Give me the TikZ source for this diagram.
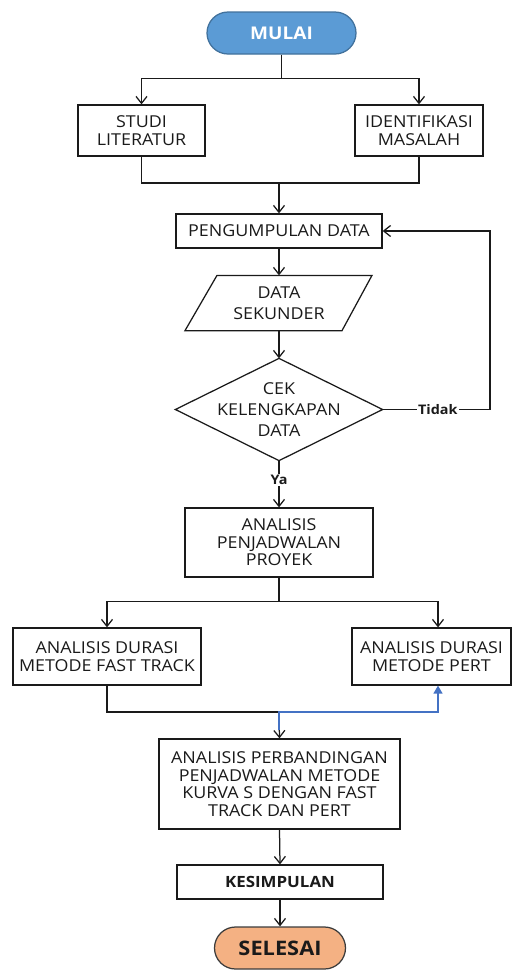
\documentclass[tikz,border=0pt]{standalone}
\usepackage{fontspec}
\setmainfont{Open Sans}[FakeStretch=1.09]
\usetikzlibrary{arrows.meta,calc}
\definecolor{mulaiblue}{HTML}{5B9BD5}
\definecolor{mulaiedge}{HTML}{41719C}
\definecolor{selorange}{HTML}{F4B183}
\definecolor{linkblue}{HTML}{4472C4}
\definecolor{ink}{HTML}{1A1A1A}
\begin{document}
\begin{tikzpicture}[x=1pt,y=-1pt,
  line width=1.25pt,
  arr/.style={draw=ink,-{Straight Barb[length=7pt,width=11pt]}},
  barr/.style={draw=linkblue,line width=1.3pt,-{Triangle[length=8pt,width=9pt]}},
  box/.style={draw=ink,rectangle,align=center,inner sep=0pt,text=ink,font=\fontsize{16.4}{17.5}\selectfont},
  plain/.style={align=center,inner sep=0pt,text=ink},
  term/.style={draw,rectangle,rounded corners=21pt,minimum height=42pt,inner sep=0pt},
  lbl/.style={fill=white,inner sep=1pt,text=ink,font=\bfseries\fontsize{13.2}{15}\selectfont}]
\fill[white] (0,0) rectangle (512,970);
\useasboundingbox (0,0) rectangle (512,970);

% nodes
\node[term,fill=mulaiblue,draw=mulaiedge,minimum width=149pt,text=white,font=\bfseries\fontsize{17.5}{20}\selectfont] (mulai) at (281.5,33) {MULAI};
\node[box,minimum width=127pt,minimum height=51pt] (studi) at (141.5,130.5) {STUDI\\LITERATUR};
\node[box,minimum width=128pt,minimum height=51pt] (iden) at (419,130.5) {IDENTIFIKASI\\MASALAH};
\node[box,minimum width=206pt,minimum height=34pt] (pd) at (279,231) {PENGUMPULAN DATA};
\node[plain,minimum width=155pt,minimum height=54pt,font=\fontsize{16.4}{20.5}\selectfont] (ds) at (279,303) {DATA\\SEKUNDER};
\draw[ink] ([xshift=-62pt]ds.north) -- ([xshift=93pt]ds.north) -- ([xshift=63pt]ds.south) -- ([xshift=-94pt]ds.south) -- cycle;
\node[plain,minimum width=206pt,minimum height=101pt,font=\fontsize{16.4}{20.7}\selectfont] (cek) at (279,409.5) {CEK\\KELENGKAPAN\\DATA};
\draw[ink] (cek.north) -- (cek.east) -- (cek.south) -- (cek.west) -- cycle;
\node[box,minimum width=188pt,minimum height=69pt] (ana) at (279,542.5) {ANALISIS\\PENJADWALAN\\PROYEK};
\node[box,minimum width=188pt,minimum height=57pt] (ft) at (107,656.5) {ANALISIS DURASI\\METODE FAST TRACK};
\node[box,minimum width=159pt,minimum height=57pt] (pert) at (431.5,656.5) {ANALISIS DURASI\\METODE PERT};
\node[box,minimum width=241pt,minimum height=90pt] (perb) at (279.5,784) {ANALISIS PERBANDINGAN\\PENJADWALAN METODE\\KURVA S DENGAN FAST\\TRACK DAN PERT};
\node[box,minimum width=206pt,minimum height=34pt,font=\bfseries\fontsize{15.5}{17}\selectfont] (kes) at (280,882) {KESIMPULAN};
\node[term,fill=selorange,draw=ink!85,minimum width=131pt,text=ink,font=\bfseries\fontsize{20}{22}\selectfont] (sel) at (280,948) {SELESAI};

% connectors
\draw[arr] (mulai.south) -- ++(0,24) -| (studi.north);
\draw[arr] (mulai.south) -- ++(0,24) -| (iden.north);
\coordinate (j1) at (279,183);
\draw[ink] (studi.south) |- (j1) -| (iden.south);
\draw[arr] (j1) -- (pd.north);
\draw[arr] (pd.south) -- (ds.north);
\draw[arr] (ds.south) -- (cek.north);
\coordinate (loop) at (490,409.5);
\draw[arr] (cek.east) -- node[lbl,pos=0.514]{Tidak} (loop) |- (pd.east);
\draw[arr] (cek.south) -- node[lbl,pos=0.42]{Ya} (ana.north);
\draw[arr] (ana.south) -- ++(0,24) -| (ft.north);
\draw[arr] (ana.south) -- ++(0,24) -| ([xshift=6.5pt]pert.north);
\coordinate (j2) at (279,712);
\draw[ink] (ft.south) |- (j2);
\draw[arr] (j2) -- (perb.north);
\coordinate (b0) at (279,730);
\draw[barr] (b0) -- (j2) -| ([xshift=6.5pt]pert.south);
\draw[arr] (perb.south) -- (kes.north);
\draw[arr] (kes.south) -- (sel.north);
\end{tikzpicture}
\end{document}
